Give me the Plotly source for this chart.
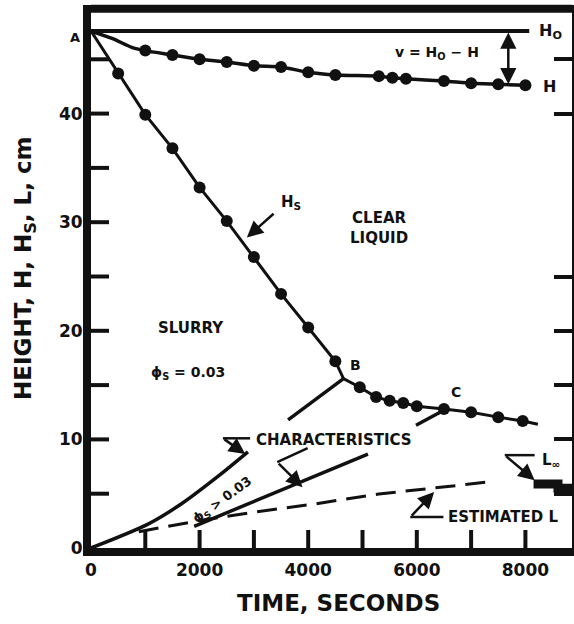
import plotly.graph_objects as go

# ---------------- data ----------------
H0 = 47.6
h_t = [1000, 1500, 2000, 2500, 3000, 3500, 4000, 4500, 5300, 5550, 5800, 6500, 7000, 7500, 8000]
h_val = [45.8, 45.4, 45.0, 44.75, 44.4, 44.3, 43.8, 43.55, 43.45, 43.3, 43.2, 43.0, 42.8, 42.7, 42.6]
h_line_t = [0, 400, 750] + h_t
h_line_v = [H0, 46.9, 46.1] + h_val
h0_t = [0, 8070]

hs_t = [500, 1000, 1500, 2000, 2500, 3000, 3500, 4000, 4500, 4950, 5250, 5500, 5750, 6000, 6500, 7000, 7500, 7950]
hs_val = [43.7, 39.9, 36.8, 33.2, 30.1, 26.8, 23.4, 20.3, 17.2, 14.8, 13.9, 13.55, 13.35, 13.05, 12.8, 12.5, 12.05, 11.7]
hs_line_t = [0, 500, 1000, 1500, 2000, 2500, 3000, 3500, 4000, 4500, 4650, 4950, 5250, 5500, 5750, 6000, 6500, 7000, 7500, 7950, 8230]
hs_line_v = [H0, 43.7, 39.9, 36.8, 33.2, 30.1, 26.8, 23.4, 20.3, 17.2, 15.6, 14.8, 13.9, 13.55, 13.35, 13.05, 12.8, 12.5, 12.05, 11.7, 11.4]

char1_t = [0, 1050, 1660, 2390, 2890]
char1_v = [0, 2.2, 4.05, 6.8, 8.85]
char2_t = [1900, 5100]
char2_v = [2.0, 8.65]
char3_t = [3630, 4650]
char3_v = [11.8, 15.6]
char4_t = [5985, 6540]
char4_v = [11.3, 12.8]

est_l_t = [880, 1970, 3000, 4110, 5300, 6575, 7270]
est_l_v = [1.5, 2.5, 3.3, 4.05, 4.97, 5.7, 6.05]

linf_t = [8150, 8600, 8900]
linf_v = [5.9, 5.5, 5.5]

x_tick_vals = [1000, 2000, 3000, 4000, 5000, 6000, 7000, 8000]
y_tick_vals = [5, 10, 15, 20, 25, 30, 35, 40, 45]
right_ticks = [45, 40, 25, 20, 15, 10, 5]

# ---------------- figure ----------------
INK = "#111111"
FONT = "DejaVu Sans"

fig = go.Figure()

def line(x, y, w=3.5, dash=None, shape="linear", smooth=None):
    d = dict(color=INK, width=w, shape=shape)
    if dash:
        d["dash"] = dash
    if smooth is not None:
        d["smoothing"] = smooth
    fig.add_trace(go.Scatter(x=x, y=y, mode="lines", line=d, hoverinfo="skip"))

line(h0_t, [H0] * len(h0_t), w=4)
line(h_line_t, h_line_v, w=3.5, shape="spline", smooth=0.6)
line(hs_line_t, hs_line_v, w=3)
line(char1_t, char1_v, w=3.5, shape="spline", smooth=0.8)
line(char2_t, char2_v, w=3.5)
line(char3_t, char3_v, w=3.5)
line(char4_t, char4_v, w=3.5)
line(est_l_t, est_l_v, w=3, dash="20px,10px")
line(linf_t, linf_v, w=9, shape="hv")

fig.add_trace(go.Scatter(x=h_t, y=h_val, mode="markers",
                         marker=dict(size=12, color=INK), hoverinfo="skip"))
fig.add_trace(go.Scatter(x=hs_t, y=hs_val, mode="markers",
                         marker=dict(size=12, color=INK), hoverinfo="skip"))
fig.add_trace(go.Scatter(x=[0], y=[0], yaxis="y2", mode="markers",
                         marker=dict(opacity=0), hoverinfo="skip", showlegend=False))

tickfont = dict(family=FONT, size=17, color=INK, weight="bold")
tk = dict(ticks="inside", ticklen=18, tickwidth=4, tickcolor=INK)

fig.update_layout(
    template="none",
    width=574, height=624,
    margin=dict(l=91, r=2, t=5, b=76, autoexpand=False),
    plot_bgcolor="white", paper_bgcolor="white",
    showlegend=False,
    xaxis=dict(range=[0, 8858], showgrid=False, zeroline=False, automargin=False,
               showline=True, linecolor=INK, linewidth=8,
               tick0=0, dtick=2000, ticks="",
               tickfont=tickfont, ticklabelstandoff=0),
    yaxis=dict(range=[0, 50], showgrid=False, zeroline=False, automargin=False,
               showline=True, linecolor=INK, linewidth=8,
               tick0=0, dtick=10, ticks="",
               tickfont=tickfont, ticklabelstandoff=-3),
    yaxis2=dict(range=[0, 50], overlaying="y", side="right", showgrid=False,
                zeroline=False, showline=True, linecolor=INK, linewidth=2, automargin=False,
                tickmode="array", tickvals=right_ticks, showticklabels=False, **tk),
)

# tick marks on the left and bottom axes (inward, fixed pixel length)
for v in y_tick_vals:
    fig.add_shape(type="line", xref="x", yref="y", xsizemode="pixel", xanchor=0,
                  x0=0, x1=18, y0=v, y1=v, line=dict(color=INK, width=4))
for v in x_tick_vals:
    fig.add_shape(type="line", xref="x", yref="y", ysizemode="pixel", yanchor=0,
                  y0=0, y1=18, x0=v, x1=v, line=dict(color=INK, width=4))

# top border
fig.add_shape(type="line", xref="paper", yref="paper", x0=0, x1=1, y0=0.993, y1=0.993,
              line=dict(color=INK, width=8))

def txt(x, y, s, size=15, **kw):
    fig.add_annotation(x=x, y=y, text=s, showarrow=False,
                       font=dict(family=FONT, size=size, color=INK, weight="bold"), **kw)

def arrow(x, y, ax, ay, side="end"):
    fig.add_annotation(x=x, y=y, ax=ax, ay=ay, axref="x", ayref="y", text="",
                       showarrow=True, arrowhead=2, arrowsize=1.3, arrowwidth=2.5,
                       arrowcolor=INK, arrowside=side)

def seg(x0, y0, x1, y1):
    fig.add_shape(type="line", x0=x0, y0=y0, x1=x1, y1=y1,
                  line=dict(color=INK, width=2.5))

txt(0, H0, "A", size=13, xanchor="right", xshift=-9, yshift=-6)
txt(8222, H0, "H<sub>O</sub>", size=16, xanchor="left")
txt(8278, 42.5, "H", size=16, xanchor="left")
txt(6370, 45.6, "v = H<sub>O</sub> \u2212 H", size=14)
arrow(7685, 42.7, 7685, H0, side="end+start")

txt(3680, 31.8, "H<sub>S</sub>", size=15)
arrow(2870, 28.6, 3390, 30.9)

txt(5300, 29.5, "CLEAR<br>LIQUID", size=15)
txt(1850, 20.3, "SLURRY", size=15)
txt(1790, 16.1, "\u03d5<sub>S</sub> = 0.03", size=14)
txt(4880, 16.85, "B", size=14)
txt(6730, 14.4, "C", size=14)

txt(4470, 9.9, "CHARACTERISTICS", size=15)
seg(2930, 10.1, 2430, 10.1)
arrow(2840, 8.65, 2430, 10.1)
seg(3990, 9.2, 3430, 7.9)
arrow(3895, 5.6, 3430, 7.9)

txt(2420, 4.4, "\u03d5<sub>S</sub> > 0.03", size=13, textangle=-36)

txt(7580, 2.85, "ESTIMATED L", size=15)
seg(6490, 2.85, 5880, 2.85)
arrow(6320, 5.15, 5880, 2.85)

txt(8470, 8.1, "L<sub>\u221e</sub>", size=15)
seg(8170, 8.55, 7620, 8.55)
arrow(8170, 6.25, 7620, 8.55)

txt(0.514, 0, "TIME, SECONDS", size=23, xref="paper", yref="paper",
    xanchor="center", yanchor="middle", yshift=-55)
fig.add_annotation(x=0, y=0.514, xref="paper", yref="paper", text="HEIGHT, H, H<sub>S</sub>, L, cm",
                   showarrow=False, textangle=-90, xshift=-66, xanchor="center", yanchor="middle",
                   font=dict(family=FONT, size=23, color=INK, weight="bold"))

fig.write_html("out.html", config={"displayModeBar": False},
               post_script="document.body.style.margin='0';document.body.style.overflow='hidden';")
